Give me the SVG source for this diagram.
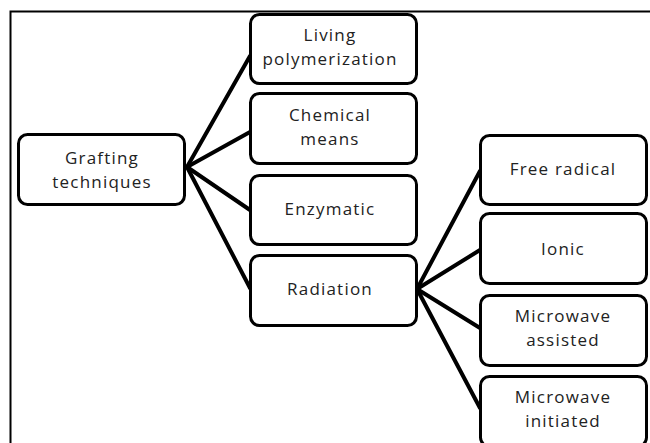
<svg xmlns="http://www.w3.org/2000/svg" width="650" height="443" viewBox="0 0 650 443">
<style>
.box{fill:#fff;stroke:#000;stroke-width:3;}
.t{font-family:"Open Sans","Noto Sans",sans-serif;font-size:17px;letter-spacing:1.2px;fill:#222;text-anchor:middle;}
.c{stroke:#000;stroke-width:4;fill:none;stroke-linecap:round;}
</style>
<rect width="650" height="443" fill="#fff"/>
<path d="M10.5,443 V11.5 H650" fill="none" stroke="#000" stroke-width="2"/>
<g id="connectors">
<line class="c" x1="187" y1="167" x2="250" y2="56"/>
<line class="c" x1="187" y1="167" x2="250" y2="132"/>
<line class="c" x1="187" y1="167" x2="250" y2="210"/>
<line class="c" x1="187" y1="167" x2="250" y2="288"/>
<line class="c" x1="417" y1="289" x2="480" y2="171"/>
<line class="c" x1="417" y1="289" x2="480" y2="250"/>
<line class="c" x1="417" y1="289" x2="480" y2="328"/>
<line class="c" x1="417" y1="289" x2="480" y2="408"/>
</g>
<g id="grafting"><rect class="box" x="18.5" y="134.5" width="166" height="70" rx="9"/><text class="t" x="102" y="164">Grafting</text><text class="t" x="102" y="188">techniques</text></g>
<g id="living"><rect class="box" x="250.5" y="14.5" width="166" height="69" rx="9"/><text class="t" x="330" y="41">Living</text><text class="t" x="330" y="65">polymerization</text></g>
<g id="chemical"><rect class="box" x="250.5" y="93.5" width="166" height="70" rx="9"/><text class="t" x="330" y="121">Chemical</text><text class="t" x="330" y="145">means</text></g>
<g id="enzymatic"><rect class="box" x="250.5" y="175.5" width="166" height="69" rx="9"/><text class="t" x="330" y="215">Enzymatic</text></g>
<g id="radiation"><rect class="box" x="250.5" y="255.5" width="166" height="70" rx="9"/><text class="t" x="330" y="295">Radiation</text></g>
<g id="freeradical"><rect class="box" x="480.5" y="135.5" width="166" height="69" rx="9"/><text class="t" x="563" y="175">Free radical</text></g>
<g id="ionic"><rect class="box" x="480.5" y="213.5" width="166" height="70" rx="9"/><text class="t" x="563" y="255">Ionic</text></g>
<g id="mwassisted"><rect class="box" x="480.5" y="295.5" width="166" height="70" rx="9"/><text class="t" x="563" y="322">Microwave</text><text class="t" x="563" y="346">assisted</text></g>
<g id="mwinitiated"><rect class="box" x="480.5" y="376.5" width="166" height="70" rx="9"/><text class="t" x="563" y="403">Microwave</text><text class="t" x="563" y="427">initiated</text></g>
</svg>
